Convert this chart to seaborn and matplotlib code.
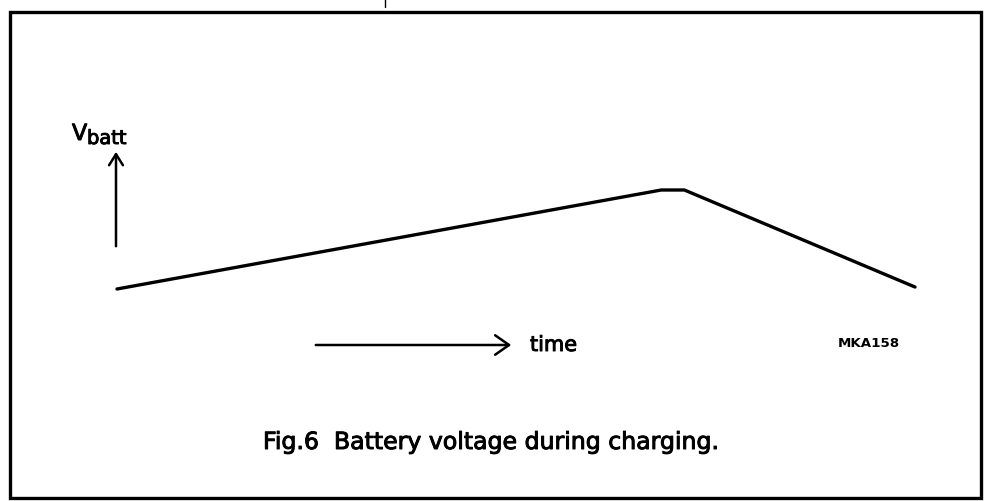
import matplotlib
matplotlib.use("Agg")
import matplotlib.pyplot as plt
import matplotlib.patheffects as pe
import seaborn as sns
import pandas as pd
from matplotlib.patches import Rectangle, FancyArrowPatch

sns.set_theme(style="white")
plt.rcParams['font.family'] = ['DejaVu Sans']

# data (normalized charging curve)
time = [0.0, 0.682, 0.711, 1.0]
vbatt = [0.0, 1.0, 1.0, 0.02]
caption = "Fig.6  Battery voltage during charging."
code = "MKA158"
xlabel = "time"
ylabel_main = "V"
ylabel_sub = "batt"

W, H = 987, 502
fig = plt.figure(figsize=(W / 100, H / 100), dpi=100)
fig.patch.set_facecolor("white")

heavy = [pe.withStroke(linewidth=0.7, foreground="black")]

# overlay axes in pixel layout coordinates
ov = fig.add_axes([0, 0, 1, 1])
ov.set_xlim(0, W)
ov.set_ylim(H, 0)
ov.axis("off")

# frame
ov.add_patch(Rectangle((10, 13), 971, 486, fill=False, lw=2.4, ec="black"))
# small scan mark at top
ov.plot([385, 385], [0, 8], color="black", lw=1)

# curve axes
l, r = 117 / W, 915 / W
b, t = 1 - 290 / H, 1 - 191 / H
ax = fig.add_axes([l, b, r - l, t - b])
df = pd.DataFrame({"time": time, "vbatt": vbatt})
sns.lineplot(data=df, x="time", y="vbatt", ax=ax, color="black", lw=2.4,
             sort=False, solid_joinstyle="round", solid_capstyle="round",
             clip_on=False)
ax.set_xlim(0, 1)
ax.set_ylim(0, 1)
ax.axis("off")
ax.patch.set_alpha(0)

# Vbatt arrow
ov.add_patch(FancyArrowPatch((116, 250), (116, 150), arrowstyle="->,head_length=8,head_width=5",
                             mutation_scale=1, lw=1.8, color="black"))
ov.text(72, 141, ylabel_main, fontsize=16, ha="left", va="baseline", color="black",
        path_effects=heavy)
ov.text(87, 145, ylabel_sub, fontsize=14, ha="left", va="baseline", color="black",
        path_effects=heavy)

# time arrow
ov.add_patch(FancyArrowPatch((313, 346), (514, 346), arrowstyle="->,head_length=10,head_width=7",
                             mutation_scale=1, lw=1.8, color="black"))
ov.text(530, 352, xlabel, fontsize=15, ha="left", va="baseline", color="black",
        path_effects=heavy)

ov.text(838, 347, code, fontsize=9.6, fontweight="bold", ha="left", va="baseline", color="black")

ov.text(263, 450, caption, fontsize=17, ha="left", va="baseline", color="black",
        path_effects=heavy)

fig.savefig("out.png", dpi=100, facecolor="white")
